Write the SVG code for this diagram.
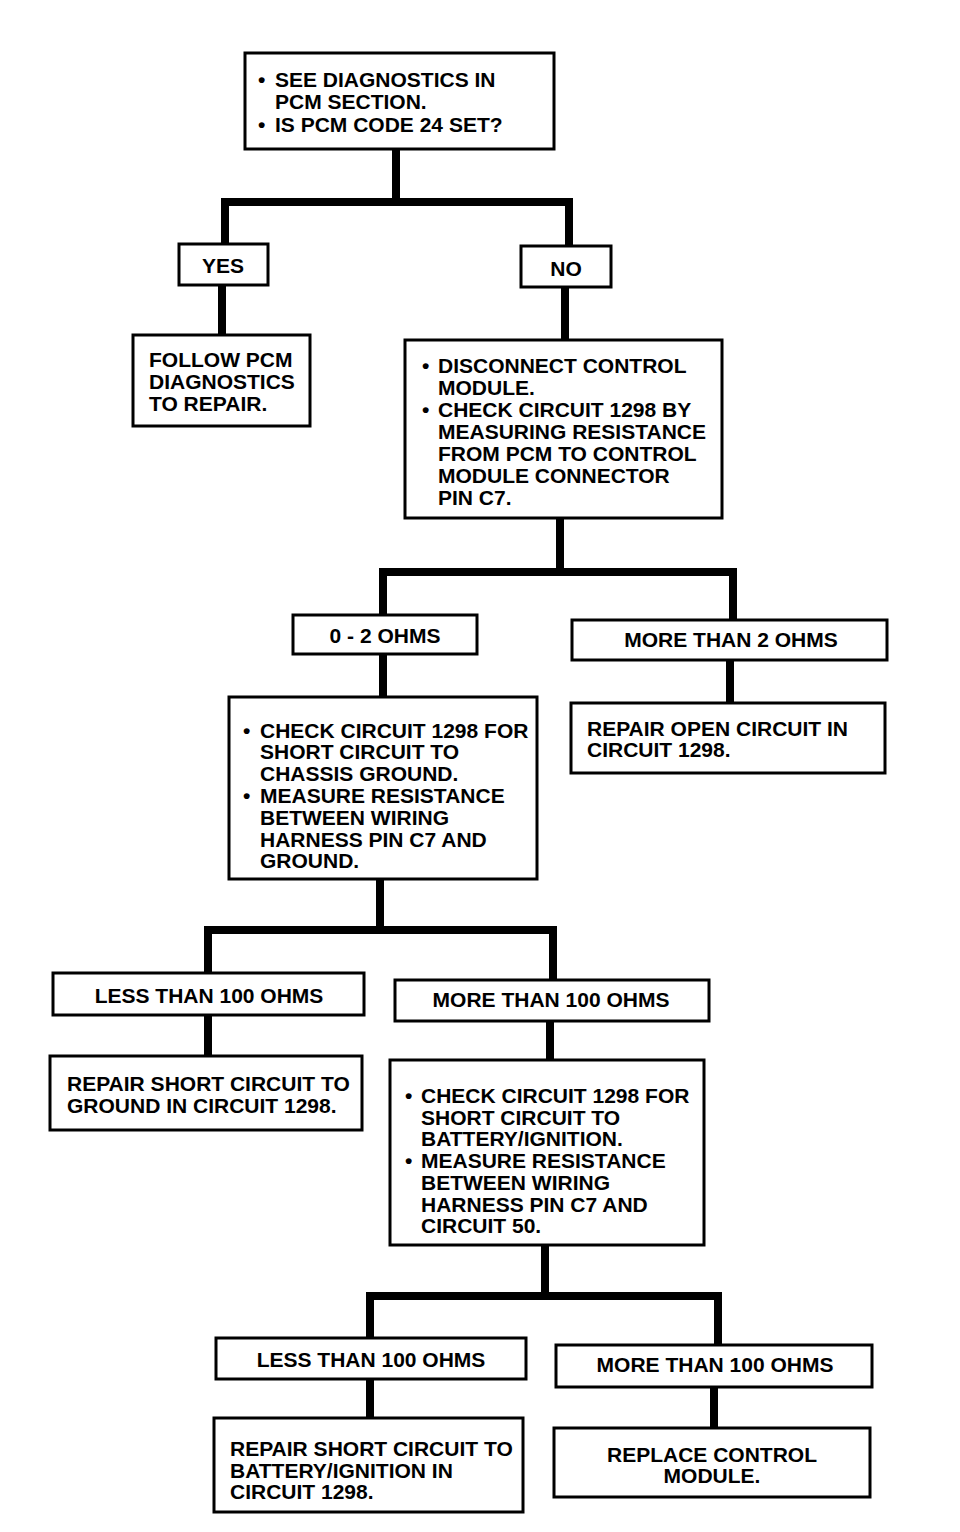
<svg xmlns="http://www.w3.org/2000/svg" width="960" height="1532" viewBox="0 0 960 1532">
<style>
.box{fill:#fff;stroke:#000;stroke-width:3}
.t{font-family:"Liberation Sans",Arial,sans-serif;font-size:21px;font-weight:bold;fill:#000}
.c{text-anchor:middle}
.con{fill:none;stroke:#000;stroke-width:8;stroke-linejoin:miter;stroke-linecap:butt}
</style>
<rect width="960" height="1532" fill="#fff"/>
<g id="connectors">
<path class="con" d="M396,149 V202 M225,243 V202 H569 V246"/>
<path class="con" d="M222,285 V335"/>
<path class="con" d="M565,287 V340"/>
<path class="con" d="M560,518 V572 M383,615 V572 H733 V620"/>
<path class="con" d="M383,654 V697"/>
<path class="con" d="M730,660 V703"/>
<path class="con" d="M380,879 V930 M208,973 V930 H553 V980"/>
<path class="con" d="M208,1015 V1056"/>
<path class="con" d="M550,1021 V1060"/>
<path class="con" d="M545,1245 V1296 M370,1338 V1296 H718 V1345"/>
<path class="con" d="M370,1379 V1418"/>
<path class="con" d="M714,1387 V1428"/>
</g>
<g id="n1">
<rect class="box" x="245" y="53" width="309" height="96"/>
<text class="t" x="258" y="87">•</text><text class="t" x="275" y="87">SEE DIAGNOSTICS IN</text>
<text class="t" x="275" y="109">PCM SECTION.</text>
<text class="t" x="258" y="132">•</text><text class="t" x="275" y="132">IS PCM CODE 24 SET?</text>
</g>
<g id="yes">
<rect class="box" x="179" y="244" width="89" height="41"/>
<text class="t c" x="223" y="273">YES</text>
</g>
<g id="no">
<rect class="box" x="521" y="246" width="90" height="41"/>
<text class="t c" x="566" y="276">NO</text>
</g>
<g id="follow">
<rect class="box" x="133" y="335" width="177" height="91"/>
<text class="t" x="149" y="367">FOLLOW PCM</text>
<text class="t" x="149" y="389">DIAGNOSTICS</text>
<text class="t" x="149" y="411">TO REPAIR.</text>
</g>
<g id="disconnect">
<rect class="box" x="405" y="340" width="317" height="178"/>
<text class="t" x="422" y="373">•</text><text class="t" x="438" y="373">DISCONNECT CONTROL</text>
<text class="t" x="438" y="395">MODULE.</text>
<text class="t" x="422" y="417">•</text><text class="t" x="438" y="417">CHECK CIRCUIT 1298 BY</text>
<text class="t" x="438" y="439">MEASURING RESISTANCE</text>
<text class="t" x="438" y="461">FROM PCM TO CONTROL</text>
<text class="t" x="438" y="483">MODULE CONNECTOR</text>
<text class="t" x="438" y="505">PIN C7.</text>
</g>
<g id="ohms02">
<rect class="box" x="293" y="615" width="184" height="39"/>
<text class="t c" x="385" y="643">0 - 2 OHMS</text>
</g>
<g id="more2">
<rect class="box" x="572" y="620" width="315" height="40"/>
<text class="t c" x="731" y="647">MORE THAN 2 OHMS</text>
</g>
<g id="check1">
<rect class="box" x="229" y="697" width="308" height="182"/>
<text class="t" x="243" y="738">•</text><text class="t" x="260" y="738">CHECK CIRCUIT 1298 FOR</text>
<text class="t" x="260" y="759">SHORT CIRCUIT TO</text>
<text class="t" x="260" y="781">CHASSIS GROUND.</text>
<text class="t" x="243" y="803">•</text><text class="t" x="260" y="803">MEASURE RESISTANCE</text>
<text class="t" x="260" y="825">BETWEEN WIRING</text>
<text class="t" x="260" y="847">HARNESS PIN C7 AND</text>
<text class="t" x="260" y="868">GROUND.</text>
</g>
<g id="repairopen">
<rect class="box" x="571" y="703" width="314" height="70"/>
<text class="t" x="587" y="736">REPAIR OPEN CIRCUIT IN</text>
<text class="t" x="587" y="757">CIRCUIT 1298.</text>
</g>
<g id="less1">
<rect class="box" x="53" y="973" width="311" height="42"/>
<text class="t c" x="209" y="1003">LESS THAN 100 OHMS</text>
</g>
<g id="more1">
<rect class="box" x="395" y="980" width="314" height="41"/>
<text class="t c" x="551" y="1007">MORE THAN 100 OHMS</text>
</g>
<g id="repairgnd">
<rect class="box" x="50" y="1056" width="312" height="74"/>
<text class="t" x="67" y="1091">REPAIR SHORT CIRCUIT TO</text>
<text class="t" x="67" y="1113">GROUND IN CIRCUIT 1298.</text>
</g>
<g id="check2">
<rect class="box" x="390" y="1060" width="314" height="185"/>
<text class="t" x="405" y="1103">•</text><text class="t" x="421" y="1103">CHECK CIRCUIT 1298 FOR</text>
<text class="t" x="421" y="1125">SHORT CIRCUIT TO</text>
<text class="t" x="421" y="1146">BATTERY/IGNITION.</text>
<text class="t" x="405" y="1168">•</text><text class="t" x="421" y="1168">MEASURE RESISTANCE</text>
<text class="t" x="421" y="1190">BETWEEN WIRING</text>
<text class="t" x="421" y="1212">HARNESS PIN C7 AND</text>
<text class="t" x="421" y="1233">CIRCUIT 50.</text>
</g>
<g id="less2">
<rect class="box" x="216" y="1338" width="310" height="41"/>
<text class="t c" x="371" y="1367">LESS THAN 100 OHMS</text>
</g>
<g id="more2b">
<rect class="box" x="556" y="1345" width="316" height="42"/>
<text class="t c" x="715" y="1372">MORE THAN 100 OHMS</text>
</g>
<g id="repairbat">
<rect class="box" x="214" y="1418" width="309" height="94"/>
<text class="t" x="230" y="1456">REPAIR SHORT CIRCUIT TO</text>
<text class="t" x="230" y="1478">BATTERY/IGNITION IN</text>
<text class="t" x="230" y="1499">CIRCUIT 1298.</text>
</g>
<g id="replace">
<rect class="box" x="554" y="1428" width="316" height="69"/>
<text class="t c" x="712" y="1462">REPLACE CONTROL</text>
<text class="t c" x="712" y="1483">MODULE.</text>
</g>
</svg>
